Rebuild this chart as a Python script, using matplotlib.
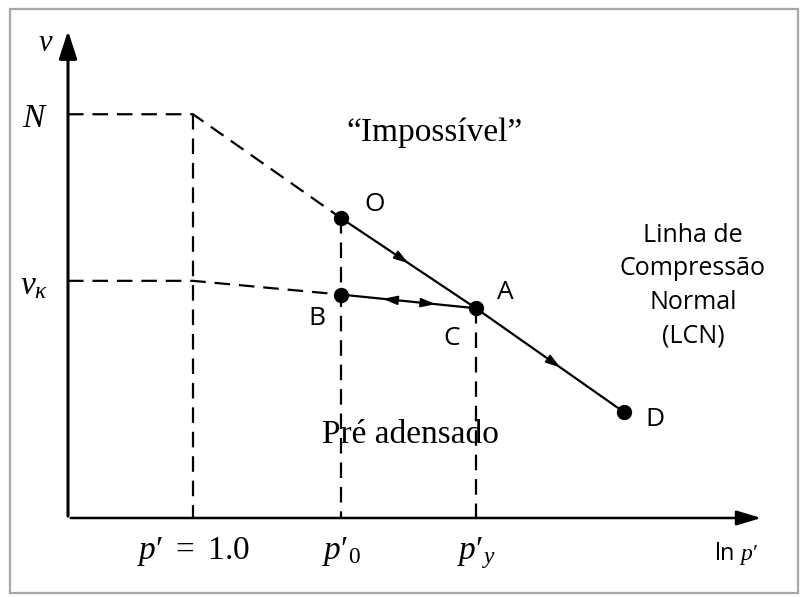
import matplotlib
matplotlib.use("Agg")
import matplotlib.pyplot as plt
from matplotlib.patches import Rectangle

plt.rcParams["mathtext.fontset"] = "custom"
plt.rcParams["mathtext.rm"] = "Liberation Serif"
plt.rcParams["mathtext.it"] = "Liberation Serif:italic"

# State points in (ln p', v) units of the sketch
p_ref = 1.25          # ln p' position of p' = 1.0
p_0 = 2.73            # ln p'_0
p_y = 4.08            # ln p'_y
N = 4.12              # v on NCL at p' = 1.0
v_k = 2.42            # v on swelling line at p' = 1.0

points = {"O": (2.73, 3.06), "B": (2.73, 2.28), "A": (4.08, 2.14), "D": (5.56, 1.08)}
xtick_pos = [p_ref, p_0, p_y]
xtick_labels = [r"$p′\ =\ 1.0$", r"$p′_0$", r"$p′_y$"]
ytick_pos = [N, v_k]
ytick_labels = [r"$N$", r"$v_\kappa$"]

W, H = 803, 597
fig = plt.figure(figsize=(W / 100, H / 100), dpi=100)
ax = fig.add_axes([68 / W, (H - 518) / H, 700 / W, 490 / H])
ax.set_xlim(0, 7)
ax.set_ylim(0, 5)
for s in ax.spines.values():
    s.set_visible(False)

# outer frame
fig.patches.append(Rectangle((10 / W, 4 / H), 788 / W, 584 / H, transform=fig.transFigure,
                             fill=False, edgecolor="#a6a6a6", linewidth=1.6))

# axes with arrowheads
ax.annotate("", xy=(6.96, 0), xytext=(0, 0),
            arrowprops=dict(arrowstyle="-|>,head_length=1.5,head_width=0.45", color="black", lw=1.8),
            annotation_clip=False)
ax.annotate("", xy=(0, 5.0), xytext=(0, -0.01),
            arrowprops=dict(arrowstyle="-|>,head_length=1.7,head_width=0.55", color="black", lw=2.2),
            annotation_clip=False)

ax.set_xticks(xtick_pos, xtick_labels, fontsize=24)
ax.set_yticks(ytick_pos, ytick_labels, fontsize=24)
ax.tick_params(axis="x", length=0, pad=12)
ax.tick_params(axis="y", length=0, pad=14)
ax.text(6.68, -0.36, "ln $p′$", fontsize=17, ha="center", va="center", family="Open Sans")
ax.text(-0.22, 4.85, r"$v$", fontsize=22, ha="center", va="center")

O, B, A, D = points["O"], points["B"], points["A"], points["D"]
dash = dict(color="black", lw=1.6, dashes=(7, 4))

# dashed construction lines
ax.plot([0, p_ref, O[0]], [N, N, O[1]], **dash)
ax.plot([0, p_ref, B[0]], [v_k, v_k, B[1]], **dash)
ax.plot([p_ref, p_ref], [N, 0], **dash)
ax.plot([O[0], O[0]], [O[1], 0], **dash)
ax.plot([A[0], A[0]], [A[1], 0], **dash)

# normal compression line and unload-reload line
ax.plot([O[0], A[0], D[0]], [O[1], A[1], D[1]], color="black", lw=1.6)
ax.plot([B[0], A[0]], [B[1], A[1]], color="black", lw=1.6)


def mid_arrow(p, q, t, reverse=False):
    x0, y0 = p
    x1, y1 = q
    dx, dy = x1 - x0, y1 - y0
    xm, ym = x0 + t * dx, y0 + t * dy
    s = -0.02 if reverse else 0.02
    ax.annotate("", xy=(xm + s * dx, ym + s * dy), xytext=(xm - s * dx, ym - s * dy),
                arrowprops=dict(arrowstyle="-|>,head_length=0.9,head_width=0.28",
                                color="black", lw=1.2, shrinkA=0, shrinkB=0))


mid_arrow(O, A, 0.48)
mid_arrow(A, D, 0.55)
mid_arrow(B, A, 0.33, reverse=True)
mid_arrow(B, A, 0.68)

xs = [v[0] for v in points.values()]
ys = [v[1] for v in points.values()]
ax.plot(xs, ys, "o", color="black", markersize=10, zorder=5)

lab = dict(fontsize=19, family="Open Sans", ha="center", va="center")
ax.text(O[0] + 0.34, O[1] + 0.14, "O", **lab)
ax.text(A[0] + 0.29, A[1] + 0.16, "A", **lab)
ax.text(B[0] - 0.24, B[1] - 0.24, "B", **lab)
ax.text(A[0] - 0.24, A[1] - 0.31, "C", **lab)
ax.text(D[0] + 0.31, D[1] - 0.08, "D", **lab)

ax.text(3.67, 3.93, "\u201cImpossível\u201d", fontsize=24, family="Liberation Serif",
        ha="center", va="center")
ax.text(3.42, 0.85, "Pré adensado", fontsize=24, family="Liberation Serif",
        ha="center", va="center")
ax.text(6.25, 2.37, "Linha de\nCompressão\nNormal\n(LCN)", fontsize=18, family="Open Sans",
        ha="center", va="center", linespacing=1.45)

fig.savefig("out.png", dpi=100)
